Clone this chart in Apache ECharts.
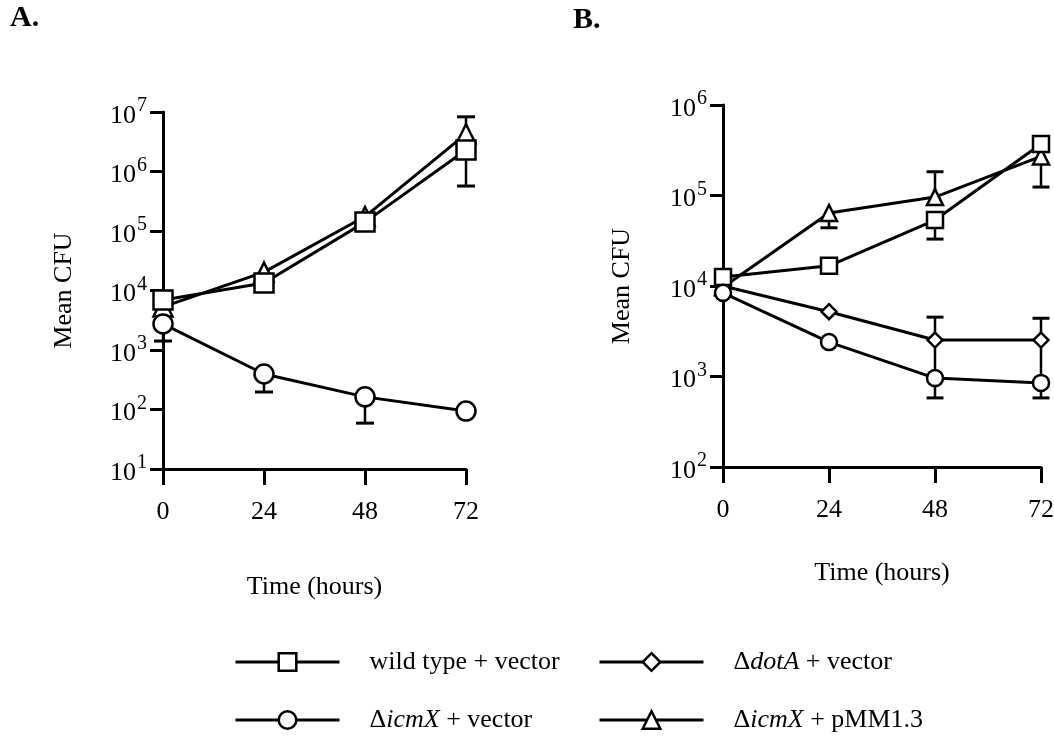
<!DOCTYPE html>
<html>
<head>
<meta charset="utf-8">
<title>Mean CFU</title>
<script src="https://cdn.jsdelivr.net/npm/echarts@6/dist/echarts.min.js"></script>
<style>
  html, body { margin: 0; padding: 0; background: #fff; }
  #chart { width: 1054px; height: 743px; }
</style>
</head>
<body>
<div id="chart"></div>
<script>
// time points (hours)
const hours = [0, 24, 48, 72];

// panel A
const aWild = [6900, 13400, 141000, 2300000];
const aIcmX = [2740, 395, 163, 94];
const aPmm = [5300, 20400, 175000, 4300000];
// error bar ends: [hour, end]
const aWildErr = [[72, 570000]];
const aIcmXErr = [[0, 1415], [24, 197], [48, 59]];
const aPmmErr = [[72, 8300000]];

// panel B
const bWild = [12600, 16700, 53500, 370000];
const bDotA = [10000, 5200, 2530, 2530];
const bIcmX = [8400, 2400, 960, 850];
const bPmm = [9700, 64000, 96000, 270000];
const bWildErr = [[48, 33000]];
const bDotAErr = [[48, 4530], [72, 4400], [48, 1000], [72, 900]];
const bIcmXErr = [[48, 580], [72, 580]];
const bPmmErr = [[24, 44000], [48, 183000], [72, 124000]];

const NAME_WT = 'wild type + vector';
const NAME_DOT = 'ΔdotA + vector';
const NAME_ICM = 'ΔicmX + vector';
const NAME_PMM = 'ΔicmX + pMM1.3';

const FONT = 'Liberation Serif';

const chart = echarts.init(document.getElementById('chart'));

function pairs(vals) {
  return hours.map((h, i) => [h, vals[i]]);
}

function errData(vals, ends) {
  return ends.map(e => [e[0], vals[hours.indexOf(e[0])], e[1]]);
}

function lineSeries(name, vals, symbol, size, grid) {
  return {
    name: name,
    type: 'line',
    xAxisIndex: grid, yAxisIndex: grid,
    data: pairs(vals),
    symbol: symbol,
    symbolSize: size,
    showSymbol: true,
    z: 3,
    lineStyle: { color: '#000', width: 3 },
    itemStyle: { color: '#fff', borderColor: '#000', borderWidth: 2.5 },
    emphasis: { disabled: true }
  };
}

// vertical bar from the point to its end, cap at the end only
function errSeries(vals, ends, grid, capW) {
  return {
    type: 'custom',
    xAxisIndex: grid, yAxisIndex: grid,
    data: errData(vals, ends),
    encode: { x: 0, y: [1, 2] },
    z: 2,
    silent: true,
    renderItem: function (params, api) {
      const p1 = api.coord([api.value(0), api.value(1)]);
      const p2 = api.coord([api.value(0), api.value(2)]);
      return {
        type: 'group',
        children: [
          { type: 'line', shape: { x1: p1[0], y1: p1[1], x2: p2[0], y2: p2[1] },
            style: { stroke: '#000', lineWidth: 2.5 } },
          { type: 'line', shape: { x1: p2[0] - capW / 2, y1: p2[1], x2: p2[0] + capW / 2, y2: p2[1] },
            style: { stroke: '#000', lineWidth: 3 } }
        ]
      };
    }
  };
}

function xAxisCfg(grid, gap) {
  return {
    gridIndex: grid,
    type: 'value',
    min: 0, max: 72, interval: 24,
    name: 'Time (hours)',
    nameLocation: 'middle',
    nameGap: gap,
    nameTextStyle: { fontFamily: FONT, fontSize: 26, color: '#000' },
    axisLine: { lineStyle: { color: '#000', width: 3 } },
    axisTick: { length: 16, lineStyle: { color: '#000', width: 3 } },
    axisLabel: { fontFamily: FONT, fontSize: 26, color: '#000', margin: 30 },
    splitLine: { show: false }
  };
}

function yAxisCfg(grid, min, max, gap) {
  return {
    gridIndex: grid,
    type: 'log',
    logBase: 10,
    min: min, max: max,
    name: 'Mean CFU',
    nameLocation: 'middle',
    nameGap: gap,
    nameRotate: 90,
    nameTextStyle: { fontFamily: FONT, fontSize: 26, color: '#000' },
    axisLine: { lineStyle: { color: '#000', width: 3 } },
    axisTick: { length: 13, lineStyle: { color: '#000', width: 3 } },
    axisLabel: {
      margin: 16,
      formatter: v => '{b|10}{s|' + Math.round(Math.log10(v)) + '}',
      rich: {
        b: { fontFamily: FONT, fontSize: 26, color: '#000', lineHeight: 26, padding: [8, 0, 0, 0] },
        s: { fontFamily: FONT, fontSize: 20, color: '#000', lineHeight: 20, padding: [0, 0, 12, 1] }
      }
    },
    minorTick: { show: false },
    splitLine: { show: false }
  };
}

const legendRich = {
  n: { fontFamily: FONT, fontSize: 26, color: '#000', lineHeight: 26 },
  i: { fontFamily: FONT, fontSize: 26, color: '#000', lineHeight: 26, fontStyle: 'italic' }
};
function legendFmt(name) {
  if (name === NAME_DOT) return '{n|Δ}{i|dotA}{n| + vector}';
  if (name === NAME_ICM) return '{n|Δ}{i|icmX}{n| + vector}';
  if (name === NAME_PMM) return '{n|Δ}{i|icmX}{n| + pMM1.3}';
  return '{n|' + name + '}';
}
function legendCfg(left, names) {
  return {
    orient: 'vertical',
    left: left, top: 649,
    padding: 0,
    itemWidth: 104, itemHeight: 22,
    itemGap: 32,
    selectedMode: false,
    data: names,
    formatter: legendFmt,
    lineStyle: { width: 3, color: '#000' },
    itemStyle: { borderWidth: 2.5, borderColor: '#000', color: '#fff' },
    textStyle: { rich: legendRich, padding: [0, 0, 0, 25] }
  };
}

chart.setOption({
  animation: false,
  backgroundColor: '#fff',
  title: [
    { text: 'A.', left: 10, top: 3, padding: 0,
      textStyle: { fontFamily: FONT, fontSize: 30, fontWeight: 'bold', color: '#000' } },
    { text: 'B.', left: 573, top: 5, padding: 0,
      textStyle: { fontFamily: FONT, fontSize: 30, fontWeight: 'bold', color: '#000' } }
  ],
  legend: [
    legendCfg(234, [NAME_WT, NAME_ICM]),
    legendCfg(598, [NAME_DOT, NAME_PMM])
  ],
  grid: [
    { left: 163, top: 112, width: 303, height: 357, outerBoundsMode: 'none' },
    { left: 723, top: 105, width: 318, height: 362, outerBoundsMode: 'none' }
  ],
  xAxis: [xAxisCfg(0, 105), xAxisCfg(1, 93)],
  yAxis: [yAxisCfg(0, 10, 1e7, 86), yAxisCfg(1, 100, 1e6, 88)],
  series: [
    lineSeries(NAME_PMM, aPmm, 'triangle', 19, 0),
    lineSeries(NAME_WT, aWild, 'rect', 19, 0),
    lineSeries(NAME_ICM, aIcmX, 'circle', 19, 0),
    errSeries(aPmm, aPmmErr, 0, 18),
    errSeries(aWild, aWildErr, 0, 18),
    errSeries(aIcmX, aIcmXErr, 0, 18),

    lineSeries(NAME_PMM, bPmm, 'triangle', 16, 1),
    lineSeries(NAME_DOT, bDotA, 'diamond', 15, 1),
    lineSeries(NAME_WT, bWild, 'rect', 16, 1),
    lineSeries(NAME_ICM, bIcmX, 'circle', 16, 1),
    errSeries(bPmm, bPmmErr, 1, 17),
    errSeries(bDotA, bDotAErr, 1, 17),
    errSeries(bWild, bWildErr, 1, 17),
    errSeries(bIcmX, bIcmXErr, 1, 17)
  ]
});

window.addEventListener('resize', () => chart.resize());
</script>
</body>
</html>
